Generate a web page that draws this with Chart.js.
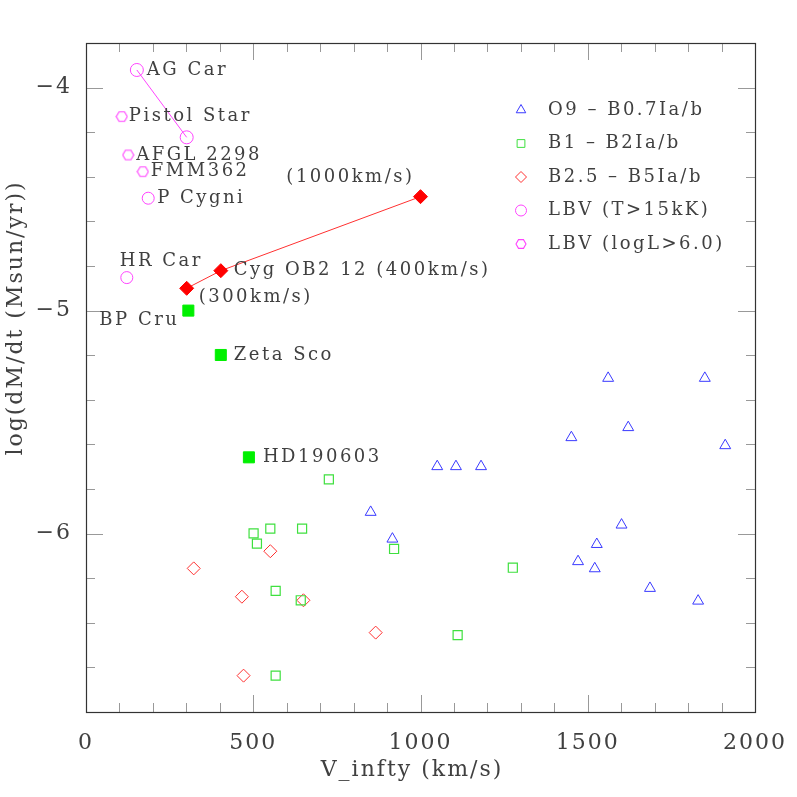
<!DOCTYPE html>
<html>
<head>
<meta charset="utf-8">
<script src="https://cdn.jsdelivr.net/npm/chart.js@4.4.1/dist/chart.umd.min.js"></script>
<style>
  html, body { margin: 0; padding: 0; background: #fff; }
  #wrap { width: 797px; height: 797px; }
</style>
</head>
<body>
<div id="wrap"><canvas id="c" width="797" height="797"></canvas></div>
<script>
// O9 - B0.7Ia/b  (open triangles)
const o9V = [1561, 1850, 1621, 1451, 1911, 1050, 1106, 1181, 1601, 1527, 1471, 1521, 1686, 1830, 851, 916];
const o9M = [-5.303, -5.303, -5.524, -5.569, -5.605, -5.699, -5.699, -5.699, -5.961, -6.048, -6.125, -6.157, -6.245, -6.302, -5.904, -6.024];

// B1 - B2Ia/b  (open squares)
const b1V = [726, 501, 551, 646, 511, 921, 567, 642, 1111, 567, 1276];
const b1M = [-5.757, -5.999, -5.978, -5.978, -6.045, -6.069, -6.257, -6.299, -6.455, -6.637, -6.153];

// B2.5 - B5Ia/b  (open diamonds)
const b25V = [322, 551, 466, 650, 866, 471];
const b25M = [-6.156, -6.079, -6.283, -6.299, -6.444, -6.637];

// LBV (T>15kK) circles; AG Car has two states joined by a line
const agCarV = [152, 301];
const agCarM = [-3.921, -4.223];
const lbvV = [122, 186];
const lbvM = [-4.852, -4.496];

// LBV (logL>6.0) hexagons
const lbvHotV = [107, 126, 170];
const lbvHotM = [-4.130, -4.302, -4.377];

// Cyg OB2 12 for three wind speeds (filled diamonds)
const cygV = [301, 403, 1000];
const cygM = [-4.900, -4.821, -4.489];

// named stars (filled squares)
const namedV = [306, 403, 487];
const namedM = [-5.000, -5.199, -5.658];

const xTicks = [0, 500, 1000, 1500, 2000];
const yTicks = [-6, -5, -4];

const legendLabels = ["O9 \u2013 B0.7Ia/b", "B1 \u2013 B2Ia/b", "B2.5 \u2013 B5Ia/b", "LBV (T>15kK)", "LBV (logL>6.0)"];

// text labels: [text, x, y, dx, dy, align]
const starLabels = [
  ["AG Car", 152, -3.921, 10, 0, "left"],
  ["Pistol Star", 107, -4.130, 7, 0, "left"],
  ["AFGL 2298", 126, -4.302, 8, 0, "left"],
  ["FMM362", 170, -4.377, 8, 0, "left"],
  ["P Cygni", 186, -4.496, 9, 0, "left"],
  ["HR Car", 122, -4.852, -7, -16, "left"],
  ["(1000km/s)", 1000, -4.489, -6, -19, "right"],
  ["Cyg OB2 12 (400km/s)", 403, -4.821, 13, 0, "left"],
  ["(300km/s)", 301, -4.900, 12, 9, "left"],
  ["BP Cru", 306, -5.000, -9, 10, "right"],
  ["Zeta Sco", 403, -5.199, 13, 0, "left"],
  ["HD190603", 487, -5.658, 14, 0, "left"],
];

const BLUE = "#3a3aff", GREEN = "#3fe03f", GREEN_FILL = "#00f000", RED = "#ff3030", MAGENTA = "#ff44ff";
const TEXT = "#404040";
const FONT = "'DejaVu Serif', 'Liberation Serif', serif";

const pts = (xs, ys) => xs.map((x, i) => ({ x: x, y: ys[i] }));

// hexagon marker as an offscreen canvas
function hexagon(size, color) {
  const c = document.createElement("canvas");
  c.width = size; c.height = size;
  const g = c.getContext("2d");
  const r = size / 2 - 1;
  g.strokeStyle = color;
  g.lineWidth = 1.1;
  g.beginPath();
  for (let k = 0; k < 6; k++) {
    const a = k * Math.PI / 3;
    const px = size / 2 + r * Math.cos(a), py = size / 2 + r * Math.sin(a);
    if (k === 0) g.moveTo(px, py); else g.lineTo(px, py);
  }
  g.closePath();
  g.stroke();
  return c;
}
const hexBig = hexagon(13, MAGENTA);
const hexSmall = hexagon(12, MAGENTA);

const framePlugin = {
  id: "frame",
  beforeDraw(chart) {
    chart.ctx.letterSpacing = "2px";
  },
  afterDatasetsDraw(chart) {
    const ctx = chart.ctx, a = chart.chartArea;
    const sx = chart.scales.x, sy = chart.scales.y;
    ctx.save();
    ctx.strokeStyle = "#999";
    ctx.lineWidth = 1;
    ctx.beginPath();
    for (let v = 0; v <= 2000; v += 100) {
      const px = Math.round(sx.getPixelForValue(v)) + 0.5;
      const len = v % 500 === 0 ? 17 : 9;
      ctx.moveTo(px, a.bottom); ctx.lineTo(px, a.bottom - len);
      ctx.moveTo(px, a.top); ctx.lineTo(px, a.top + len);
    }
    for (let i = -34; i <= -19; i++) {
      const v = i / 5;
      const py = Math.round(sy.getPixelForValue(v)) + 0.5;
      const len = i % 5 === 0 ? 17 : 9;
      ctx.moveTo(a.left, py); ctx.lineTo(a.left + len, py);
      ctx.moveTo(a.right, py); ctx.lineTo(a.right - len, py);
    }
    ctx.stroke();
    ctx.strokeStyle = "#333";
    ctx.lineWidth = 1.2;
    ctx.strokeRect(a.left + 0.5, a.top + 0.5, a.right - a.left, a.bottom - a.top);

    // star labels
    ctx.fillStyle = TEXT;
    ctx.letterSpacing = "2.5px";
    ctx.font = "18px " + FONT;
    ctx.textBaseline = "middle";
    starLabels.forEach(([t, x, y, dx, dy, al]) => {
      ctx.textAlign = al;
      ctx.fillText(t, sx.getPixelForValue(x) + dx, sy.getPixelForValue(y) + dy);
    });

    // legend
    const sets = chart.data.datasets;
    const order = [0, 1, 2, 3, 5];
    order.forEach((di, k) => {
      const ds = sets[di];
      const y = 110 + k * 33.5;
      ctx.strokeStyle = ds.pointBorderColor;
      ctx.fillStyle = "rgba(0,0,0,0)";
      ctx.lineWidth = 1;
      Chart.helpers.drawPoint(ctx, {
        pointStyle: ds.pointStyle === hexBig ? hexSmall : ds.pointStyle,
        radius: 5.5, rotation: 0, borderWidth: 1
      }, 521, y);
      ctx.fillStyle = TEXT;
      ctx.textAlign = "left";
      ctx.fillText(legendLabels[k], 548, y);
    });

    // axis titles
    ctx.letterSpacing = "2px";
    ctx.font = "22px " + FONT;
    ctx.textAlign = "center";
    ctx.fillText("V_infty (km/s)", 412, 770);
    ctx.translate(16, 318);
    ctx.rotate(-Math.PI / 2);
    ctx.fillText("log(dM/dt (Msun/yr))", 0, 0);
    ctx.restore();
  }
};

new Chart(document.getElementById("c"), {
  type: "scatter",
  data: {
    datasets: [
      { data: pts(o9V, o9M), pointStyle: "triangle", pointRadius: 6.3, pointBorderColor: BLUE,
        pointBackgroundColor: "rgba(0,0,0,0)", pointBorderWidth: 1 },
      { data: pts(b1V, b1M), pointStyle: "rect", pointRadius: 6.4, pointBorderColor: GREEN,
        pointBackgroundColor: "rgba(0,0,0,0)", pointBorderWidth: 1.2 },
      { data: pts(b25V, b25M), pointStyle: "rectRot", pointRadius: 6.5, pointBorderColor: RED,
        pointBackgroundColor: "rgba(0,0,0,0)", pointBorderWidth: 1 },
      { data: pts(agCarV, agCarM), showLine: true, borderColor: MAGENTA, borderWidth: 1,
        pointStyle: "circle", pointRadius: 6.5, pointBorderColor: MAGENTA,
        pointBackgroundColor: "rgba(0,0,0,0)", pointBorderWidth: 1 },
      { data: pts(lbvV, lbvM), pointStyle: "circle", pointRadius: 6, pointBorderColor: MAGENTA,
        pointBackgroundColor: "rgba(0,0,0,0)", pointBorderWidth: 1 },
      { data: pts(lbvHotV, lbvHotM), pointStyle: hexBig, pointRadius: 6, pointBorderColor: MAGENTA,
        pointBackgroundColor: "rgba(0,0,0,0)" },
      { data: pts(cygV, cygM), showLine: true, borderColor: RED, borderWidth: 1,
        pointStyle: "rectRot", pointRadius: 7, pointBorderColor: "#ff0000",
        pointBackgroundColor: "#ff0000", pointBorderWidth: 1 },
      { data: pts(namedV, namedM), pointStyle: "rect", pointRadius: 7.8, pointBorderColor: GREEN_FILL,
        pointBackgroundColor: GREEN_FILL, pointBorderWidth: 1 },
    ]
  },
  options: {
    responsive: false,
    animation: false,
    layout: { padding: { top: 43, right: 42, left: 0, bottom: 0 } },
    plugins: { legend: { display: false }, tooltip: { enabled: false } },
    scales: {
      x: {
        type: "linear", min: 0, max: 2000,
        grid: { display: false }, border: { display: false },
        afterBuildTicks: s => { s.ticks = xTicks.map(v => ({ value: v })); },
        afterFit: s => { s.height = 85; },
        ticks: { color: TEXT, font: { family: FONT, size: 22 }, padding: 10, maxRotation: 0,
                 callback: v => String(v) }
      },
      y: {
        type: "linear", min: -6.8, max: -3.8,
        grid: { display: false }, border: { display: false },
        afterBuildTicks: s => { s.ticks = yTicks.map(v => ({ value: v })); },
        afterFit: s => { s.width = 86; },
        ticks: { color: TEXT, font: { family: FONT, size: 22 }, padding: 6,
                 callback: v => "\u2212" + Math.abs(v) }
      }
    }
  },
  plugins: [framePlugin]
});
</script>
</body>
</html>
